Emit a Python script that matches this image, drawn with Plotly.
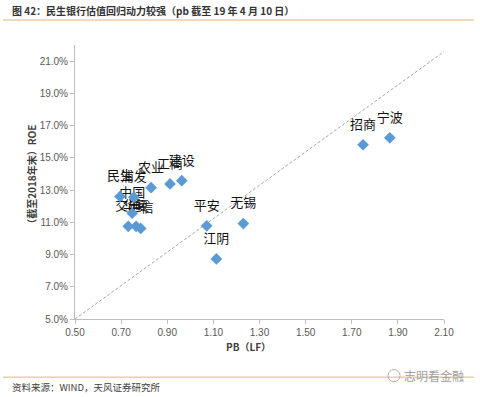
import plotly.graph_objects as go

banks = ["宁波", "招商", "无锡", "江阴", "平安", "建设", "工商", "农业", "民生", "浦发", "中国", "交通", "华夏", "中信"]
pb = [1.865, 1.749, 1.230, 1.113, 1.071, 0.963, 0.912, 0.830, 0.695, 0.755, 0.748, 0.731, 0.765, 0.785]
roe = [16.24, 15.81, 10.92, 8.73, 10.78, 13.58, 13.38, 13.15, 12.60, 12.55, 11.56, 10.75, 10.75, 10.62]

ref_x = [0.50, 2.12]
ref_y = [5.0, 21.8]

x_ticks = [0.5, 0.7, 0.9, 1.1, 1.3, 1.5, 1.7, 1.9, 2.1]
y_ticks = [5, 7, 9, 11, 13, 15, 17, 19, 21]

W, H = 480, 397
L, R, T, B = 75, 444, 45, 319.3  # plot-area edges in pixels

def px(x):
    return (x - L) / (R - L)

def py(y):
    return (B - y) / (B - T)

fig = go.Figure()
fig.add_trace(go.Scatter(
    x=ref_x, y=ref_y, mode="lines",
    line=dict(color="#A6A6A6", width=1, dash="3px,2px"),
    hoverinfo="skip", showlegend=False, cliponaxis=False))
# labels (offset above the points via an invisible larger marker)
fig.add_trace(go.Scatter(
    x=pb, y=roe, mode="markers+text", text=banks,
    textposition="top center",
    textfont=dict(family="Noto Sans CJK SC", size=13, color="#111111"),
    marker=dict(symbol="circle", size=19, opacity=0),
    hoverinfo="skip", showlegend=False, cliponaxis=False))
fig.add_trace(go.Scatter(
    x=pb, y=roe, mode="markers", text=banks,
    marker=dict(symbol="diamond", size=9, color="#5B9BD5"),
    showlegend=False, cliponaxis=False))

axis_font = dict(family="Liberation Sans, Arial", size=10, color="#595959")
fig.update_xaxes(range=[0.5, 2.1], tickvals=x_ticks, tickformat=".2f",
                 showgrid=False, zeroline=False, showline=True,
                 linecolor="#BFBFBF", linewidth=1, ticks="outside",
                 ticklen=4, tickcolor="#BFBFBF", tickfont=axis_font)
fig.update_yaxes(range=[5, 22], tickvals=y_ticks,
                 ticktext=[f"{v:.1f}%" for v in y_ticks],
                 showgrid=False, zeroline=False, showline=True,
                 linecolor="#BFBFBF", linewidth=1, ticks="outside",
                 ticklen=4, tickcolor="#BFBFBF", tickfont=axis_font)

cjk = "Noto Sans CJK SC"
annotations = [
    dict(text="<b>图 42：民生银行估值回归动力较强（pb 截至 19 年 4 月 10 日）</b>",
         x=px(10), y=py(10), xanchor="left", yanchor="middle",
         font=dict(family=cjk, size=10, color="#333333")),
    dict(text="<b>PB（LF）</b>", x=px(248), y=py(347), xanchor="center", yanchor="middle",
         font=dict(family=cjk, size=10, color="#404040")),
    dict(text="<b>（截至2018年末）ROE</b>", x=px(32), y=py(177), xanchor="center", yanchor="middle",
         textangle=-90, font=dict(family=cjk, size=10, color="#404040")),
    dict(text="资料来源：WIND，天风证券研究所", x=px(10), y=py(387), xanchor="left", yanchor="middle",
         font=dict(family=cjk, size=9.5, color="#404040")),
    dict(text="志明看金融", x=px(466), y=py(376), xanchor="right", yanchor="middle",
         font=dict(family=cjk, size=12, color="#A0A0A0")),
]
for a in annotations:
    a.update(xref="paper", yref="paper", showarrow=False)

shapes = [
    dict(type="line", xref="paper", yref="paper", x0=px(3), x1=px(474), y0=py(20), y1=py(20),
         line=dict(color="#E3B67A", width=1)),
    dict(type="line", xref="paper", yref="paper", x0=px(3), x1=px(474), y0=py(377.5), y1=py(377.5),
         line=dict(color="#E3B67A", width=1)),
    dict(type="circle", xref="paper", yref="paper", x0=px(388), x1=px(400), y0=py(370), y1=py(382),
         line=dict(color="#B0B0B0", width=1)),
]

fig.update_layout(
    width=W, height=H,
    margin=dict(l=L, r=W - R, t=T, b=H - B),
    paper_bgcolor="white", plot_bgcolor="white",
    annotations=annotations, shapes=shapes,
)
fig.write_html("out.html", config={"displayModeBar": False},
               post_script="document.body.style.margin='0';document.body.style.overflow='hidden';")
